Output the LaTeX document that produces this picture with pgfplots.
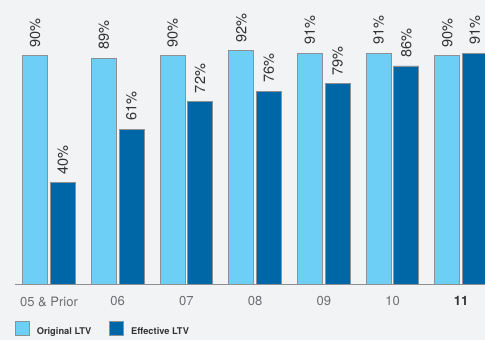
\documentclass[border=0pt]{standalone}
\usepackage{fontspec}
\setmainfont{TeX Gyre Heros}
\usepackage{pgfplots}
\pgfplotsset{compat=1.18}
\usepackage{pgfplotstable}

\definecolor{bgGray}{HTML}{F2F3F5}
\definecolor{origBlue}{HTML}{6DCFF6}
\definecolor{effBlue}{HTML}{0067A6}
\definecolor{edgeGray}{HTML}{8D9094}
\definecolor{tickGray}{HTML}{6D6E71}
\definecolor{labelInk}{HTML}{333333}

% vintage index, original LTV, effective LTV
\pgfplotstableread{
idx orig eff
0 90 40
1 89 61
2 90 72
3 92 76
4 91 79
5 91 86
6 90 91
}\ltvdata

\begin{document}
\begin{tikzpicture}
\useasboundingbox (0,0) rectangle (485pt,340pt);
\fill[bgGray] (0,0) rectangle (485pt,340pt);
\begin{scope}
\clip (0,0) rectangle (485pt,340pt);
\begin{axis}[
  at={(15pt,56pt)}, anchor=south west,
  scale only axis,
  width=470pt, height=253.5pt,
  xmin=-0.4949, xmax=6.3464,
  ymin=0, ymax=100,
  axis x line=bottom,
  axis y line=none,
  x axis line style={-, draw=edgeGray, line width=0.9pt},
  xtick={0,...,6},
  xticklabels={05 \& Prior,06,07,08,09,10,{\color{labelInk}\bfseries 11}},
  xtick style={draw=none},
  major tick length=0pt,
  xticklabel style={font=\fontsize{13}{14}\selectfont, text=tickGray, anchor=north, inner sep=0pt, yshift=-12.5pt},
  /pgf/number format/assume math mode=true,
  ybar,
  bar width=25pt,
  nodes near coords={\pgfmathprintnumber{\pgfplotspointmeta}\%},
  every node near coord/.append style={rotate=90, anchor=west, inner sep=0pt, xshift=0pt, yshift=0pt,
    font=\fontsize{14.5}{15}\selectfont, text=labelInk, inner xsep=8pt},
  clip=false,
  legend columns=2,
  legend style={at={(0,0)}, anchor=north west, xshift=0pt, yshift=-37pt,
    draw=none, fill=none, inner sep=0pt, outer sep=0pt,
    font=\bfseries\fontsize{9.3}{10}\selectfont, text=labelInk,
    /tikz/every odd column/.append style={column sep=5pt},
    /tikz/every even column/.append style={column sep=16pt}},
  legend image code/.code={\draw[#1, draw=edgeGray, line width=0.8pt] (0pt,-4pt) rectangle (14pt,10pt);},
]
\addplot[fill=origBlue, draw=edgeGray, line width=0.9pt, bar shift=-13.8pt] table[x=idx, y=orig] {\ltvdata};
\addplot[fill=effBlue, draw=edgeGray, line width=0.9pt, bar shift=13.8pt] table[x=idx, y=eff] {\ltvdata};
\legend{Original LTV, Effective LTV}
\end{axis}
\end{scope}
\end{tikzpicture}
\end{document}
